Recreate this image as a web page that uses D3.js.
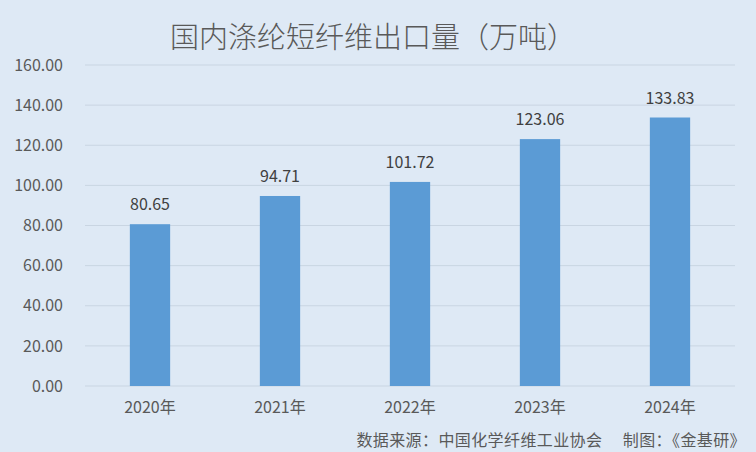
<!DOCTYPE html>
<html>
<head>
<meta charset="utf-8">
<script src="https://cdn.jsdelivr.net/npm/d3@7"></script>
<style>
  body { margin: 0; background: #dee9f5; }
  svg { display: block; }
</style>
</head>
<body>
<div id="chart"></div>
<script>
// data
const years = ["2020年", "2021年", "2022年", "2023年", "2024年"];
const exports = [80.65, 94.71, 101.72, 123.06, 133.83];
const yTicks = [0, 20, 40, 60, 80, 100, 120, 140, 160];

const width = 756;
const height = 452;
const margin = { top: 65, right: 21, bottom: 66, left: 85 };
const plotW = width - margin.left - margin.right;
const plotH = height - margin.top - margin.bottom;

const font = "'Noto Sans CJK SC', 'Noto Sans', sans-serif";

const svg = d3
  .select("#chart")
  .append("svg")
  .attr("width", width)
  .attr("height", height);

svg.append("rect")
  .attr("width", width)
  .attr("height", height)
  .attr("fill", "#dee9f5");

// title
svg.append("text")
  .attr("x", 373)
  .attr("y", 48)
  .attr("text-anchor", "middle")
  .style("font-family", font)
  .style("font-size", "29px")
  .style("font-weight", 300)
  .attr("fill", "#595959")
  .text("国内涤纶短纤维出口量（万吨）");

const g = svg.append("g")
  .attr("transform", `translate(${margin.left},${margin.top})`);

const x = d3.scaleBand()
  .domain(years)
  .range([0, plotW])
  .paddingInner(0.69)
  .paddingOuter(0.345);

const y = d3.scaleLinear()
  .domain([0, 160])
  .range([plotH, 0]);

// gridlines
g.selectAll(".grid")
  .data(yTicks)
  .enter()
  .append("line")
  .attr("x1", 0)
  .attr("x2", plotW)
  .attr("y1", (d) => y(d))
  .attr("y2", (d) => y(d))
  .attr("stroke", "#c9d5e2")
  .attr("stroke-width", 1);

// Y axis
const yAxis = g.append("g")
  .call(d3.axisLeft(y).tickValues(yTicks).tickFormat(d3.format(".2f")).tickSize(0).tickPadding(22));
yAxis.select(".domain").remove();
yAxis.selectAll("text")
  .style("font-family", font)
  .style("font-size", "16px")
  .attr("fill", "#595959");

// X axis
const xAxis = g.append("g")
  .attr("transform", `translate(0,${plotH})`)
  .call(d3.axisBottom(x).tickSize(0).tickPadding(16));
xAxis.select(".domain").remove();
xAxis.selectAll("text")
  .style("font-family", font)
  .style("font-size", "16px")
  .attr("fill", "#595959");

// bars
g.selectAll(".bar")
  .data(exports)
  .enter()
  .append("rect")
  .attr("x", (d, i) => x(years[i]))
  .attr("width", x.bandwidth())
  .attr("y", (d) => y(d))
  .attr("height", (d) => plotH - y(d))
  .attr("fill", "#5b9bd5");

// value labels
g.selectAll(".label")
  .data(exports)
  .enter()
  .append("text")
  .attr("x", (d, i) => x(years[i]) + x.bandwidth() / 2)
  .attr("y", (d) => y(d) - 14)
  .attr("text-anchor", "middle")
  .style("font-family", font)
  .style("font-size", "16px")
  .attr("fill", "#404040")
  .text((d) => d.toFixed(2));

// source note
svg.append("text")
  .attr("x", 746)
  .attr("y", 446)
  .attr("text-anchor", "end")
  .style("font-family", font)
  .style("font-size", "16px")
  .style("letter-spacing", "0.4px")
  .attr("fill", "#595959")
  .text("数据来源：中国化学纤维工业协会　 制图：《金基研》");
</script>
</body>
</html>
